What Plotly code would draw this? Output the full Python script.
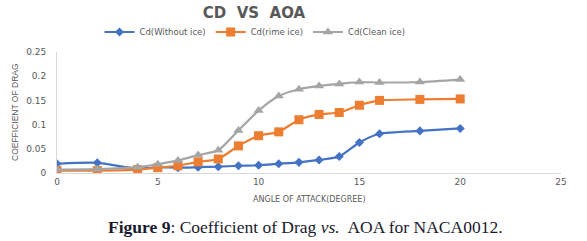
import plotly.graph_objects as go

aoa = [0, 2, 4, 5, 6, 7, 8, 9, 10, 11, 12, 13, 14, 15, 16, 18, 20]
cd_without_ice = [0.019, 0.021, 0.009, 0.012, 0.011, 0.012, 0.013, 0.015, 0.016, 0.019, 0.022, 0.027, 0.034, 0.063, 0.081, 0.087, 0.092]
cd_rime_ice = [0.005, 0.005, 0.007, 0.011, 0.015, 0.023, 0.029, 0.056, 0.077, 0.085, 0.110, 0.121, 0.125, 0.140, 0.150, 0.152, 0.153]
cd_clean_ice = [0.007, 0.008, 0.012, 0.018, 0.026, 0.037, 0.047, 0.088, 0.129, 0.159, 0.173, 0.180, 0.184, 0.188, 0.187, 0.188, 0.193]

series_names = ["Cd(Without ice)", "Cd(rime ice)", "Cd(Clean ice)"]
colors = ["#4472C4", "#ED7D31", "#A5A5A5"]
symbols = ["diamond", "square", "triangle-up"]
sizes = [7, 9, 9]

W, H = 587, 241
L, R, T, B = 57, 26, 52, 68
plot_w = W - L - R
plot_h = H - T - B

def px_x(px):
    return (px - L) / plot_w

def px_y(py):
    return (H - B - py) / plot_h

fig = go.Figure()
for name, ys, c, s, sz in zip(series_names, [cd_without_ice, cd_rime_ice, cd_clean_ice], colors, symbols, sizes):
    fig.add_trace(go.Scatter(
        x=aoa, y=ys, name=name, mode="lines+markers",
        line=dict(color=c, width=2.2, shape="spline", smoothing=0.6),
        marker=dict(color=c, symbol=s, size=sz),
    ))

axis_font = dict(family="DejaVu Sans", size=9, color="#595959")
fig.update_layout(
    width=W, height=H,
    margin=dict(l=L, r=R, t=T, b=B, autoexpand=False),
    paper_bgcolor="white", plot_bgcolor="white",
    title=dict(text="<b>CD  VS  AOA</b>", x=254 / W, xanchor="center",
               y=1 - 13 / H, yanchor="middle",
               font=dict(family="DejaVu Sans", size=15, color="#595959")),
    showlegend=True,
    legend=dict(orientation="h", x=px_x(255), xanchor="center", y=px_y(32), yanchor="middle",
                font=dict(family="DejaVu Sans", size=8.5, color="#595959"),
                itemwidth=30, tracegroupgap=0, bgcolor="rgba(0,0,0,0)"),
    xaxis=dict(range=[0, 25], dtick=5, tick0=0, showgrid=False, zeroline=False,
               showline=True, linecolor="#D9D9D9", linewidth=1,
               ticks="", tickfont=axis_font, automargin=False),
    yaxis=dict(range=[0, 0.25], dtick=0.05, tick0=0, showgrid=False, zeroline=False,
               showline=True, linecolor="#D9D9D9", linewidth=1,
               ticks="", tickfont=axis_font, ticklabelstandoff=8, automargin=False),
    annotations=[
        dict(text="ANGLE OF ATTACK(DEGREE)", xref="paper", yref="paper",
             x=px_x(309), y=px_y(199), xanchor="center", yanchor="middle", showarrow=False,
             font=dict(family="DejaVu Sans", size=8, color="#595959")),
        dict(text="COEFFICIENT OF DRAG", xref="paper", yref="paper", textangle=-90,
             x=px_x(15), y=px_y(112), xanchor="center", yanchor="middle", showarrow=False,
             font=dict(family="Liberation Sans Narrow, Liberation Sans", size=8.5, color="#595959")),
        dict(text="<b>Figure 9</b>: Coefficient of Drag <i>vs.</i>  AOA for NACA0012.",
             xref="paper", yref="paper", x=px_x(305), y=px_y(227),
             xanchor="center", yanchor="middle", showarrow=False,
             font=dict(family="Liberation Serif", size=17.5, color="#1a1a2e")),
    ],
)

fig.write_html("out.html", config={"displayModeBar": False},
               post_script="document.body.style.margin='0';document.body.style.overflow='hidden';")
